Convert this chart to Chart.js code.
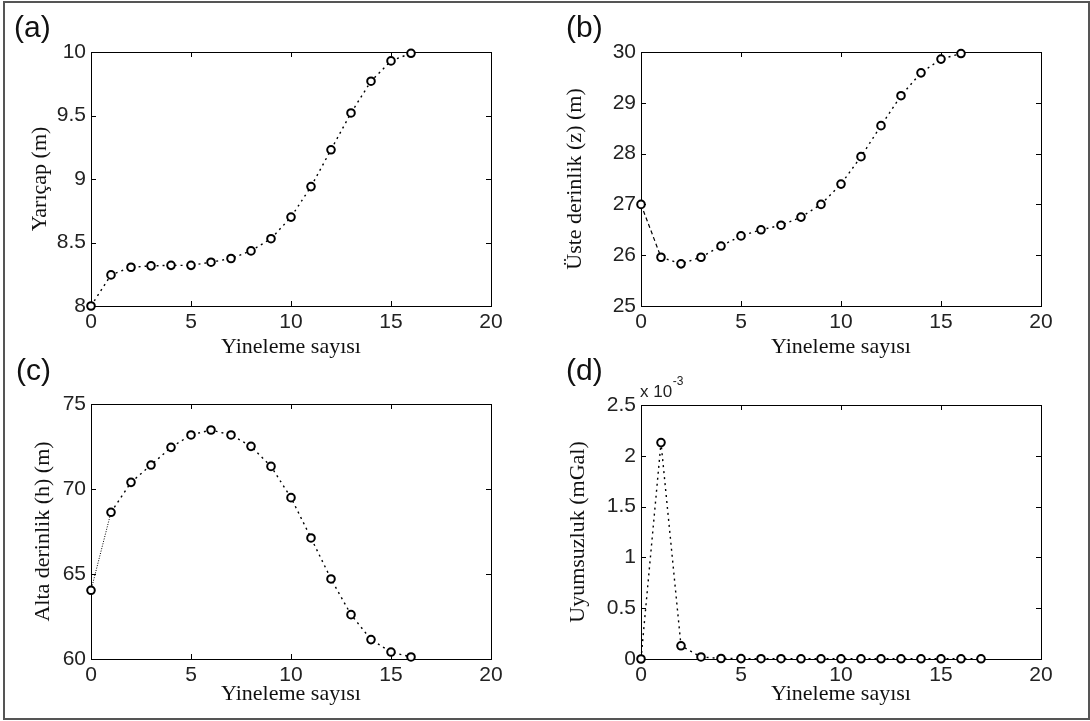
<!DOCTYPE html>
<html>
<head>
<meta charset="utf-8">
<script src="https://cdn.jsdelivr.net/npm/chart.js@4.4.0/dist/chart.umd.min.js"></script>
<style>
body { margin: 0; background: #fff; }
#page { position: relative; width: 1090px; height: 721px; overflow: hidden; background: #fff; }
#frame { position: absolute; left: 3px; top: 1px; width: 1083px; height: 715px; border: 2px solid #555; }
canvas { position: absolute; }
.tag { position: absolute; font-family: "Liberation Sans", Arial, sans-serif; font-size: 30px; line-height: 30px; color: #111; }
</style>
</head>
<body>
<div id="page">
  <div id="frame"></div>
  <canvas id="chartA" width="545" height="370" style="left:0px;top:0px"></canvas>
  <canvas id="chartB" width="545" height="370" style="left:545px;top:0px"></canvas>
  <canvas id="chartC" width="545" height="361" style="left:0px;top:360px"></canvas>
  <canvas id="chartD" width="545" height="361" style="left:545px;top:360px"></canvas>
  <div class="tag" style="left:14px;top:12px">(a)</div>
  <div class="tag" style="left:566px;top:12px">(b)</div>
  <div class="tag" style="left:16px;top:355px">(c)</div>
  <div class="tag" style="left:566px;top:355px">(d)</div>
</div>
<script>
// iteration numbers and values per panel
var iterABC = [0, 1, 2, 3, 4, 5, 6, 7, 8, 9, 10, 11, 12, 13, 14, 15, 16];
var yaricap = [8.0, 8.245, 8.305, 8.316, 8.32, 8.32, 8.345, 8.374, 8.434, 8.53, 8.70, 8.94, 9.23, 9.52, 9.77, 9.93, 9.99];
var ustDerinlik = [27.0, 25.96, 25.83, 25.96, 26.18, 26.38, 26.50, 26.59, 26.75, 27.0, 27.40, 27.94, 28.55, 29.14, 29.59, 29.86, 29.97];
var altDerinlik = [64.04, 68.63, 70.39, 71.41, 72.45, 73.18, 73.47, 73.18, 72.51, 71.33, 69.49, 67.12, 64.71, 62.61, 61.14, 60.41, 60.12];
var iterD = [0, 1, 2, 3, 4, 5, 6, 7, 8, 9, 10, 11, 12, 13, 14, 15, 16, 17];
var uyumsuzluk = [0, 2.13, 0.13, 0.02, 0.005, 0.004, 0.003, 0.003, 0.002, 0.002, 0.002, 0.002, 0.002, 0.002, 0.002, 0.002, 0.002, 0.002]; // x 10^-3 mGal

var xTickVals = [0, 5, 10, 15, 20];
var yTicksA = [8, 8.5, 9, 9.5, 10];
var yTicksB = [25, 26, 27, 28, 29, 30];
var yTicksC = [60, 65, 70, 75];
var yTicksD = [0, 0.5, 1, 1.5, 2, 2.5];

var xLabel = 'Yineleme sayısı';
var tickFont = { family: '"Liberation Sans", Arial, sans-serif', size: 21 };
var titleFont = { family: '"Liberation Serif", "Times New Roman", serif', size: 22 };

// box frame with inward ticks on all four sides
var axesFrame = {
    id: 'axesFrame',
    beforeDatasetsDraw: function(chart) {
        var ctx = chart.ctx, a = chart.chartArea;
        var xs = chart.scales.x, ys = chart.scales.y;
        ctx.save();
        ctx.strokeStyle = '#000';
        ctx.lineWidth = 1;
        ctx.strokeRect(Math.round(a.left) + 0.5, Math.round(a.top) + 0.5, Math.round(a.right - a.left), Math.round(a.bottom - a.top));
        ctx.beginPath();
        xs.ticks.forEach(function(t) {
            var px = Math.round(xs.getPixelForValue(t.value)) + 0.5;
            ctx.moveTo(px, a.bottom); ctx.lineTo(px, a.bottom - 5);
            ctx.moveTo(px, a.top); ctx.lineTo(px, a.top + 5);
        });
        ys.ticks.forEach(function(t) {
            var py = Math.round(ys.getPixelForValue(t.value)) + 0.5;
            ctx.moveTo(a.left, py); ctx.lineTo(a.left + 5, py);
            ctx.moveTo(a.right, py); ctx.lineTo(a.right - 5, py);
        });
        ctx.stroke();
        ctx.restore();
    },
    afterDraw: function(chart) {
        var note = chart.options.plugins.axesFrame;
        if (!note || !note.exponent) return;
        var ctx = chart.ctx, a = chart.chartArea;
        ctx.save();
        ctx.fillStyle = '#222';
        ctx.textBaseline = 'alphabetic';
        ctx.font = '17px "Liberation Sans", Arial, sans-serif';
        ctx.fillText('x 10', a.left - 1, a.top - 8);
        var w = ctx.measureText('x 10').width;
        ctx.font = '12px "Liberation Sans", Arial, sans-serif';
        ctx.fillText(note.exponent, a.left + w - 0.5, a.top - 20);
        ctx.restore();
    }
};

function fixedTicks(list) {
    return function(scale) {
        scale.ticks = list.map(function(v) { return { value: v }; });
    };
}

function panel(id, xs, ys, yTicks, yTitle, box, firstSeg, exponent) {
    var points = xs.map(function(x, i) { return { x: x, y: ys[i] }; });
    return new Chart(document.getElementById(id), {
        type: 'line',
        data: {
            datasets: [{
                data: points,
                borderColor: '#000',
                borderWidth: 1.4,
                borderDash: [2, 4],
                pointRadius: 3.8,
                pointBorderWidth: 2,
                pointBorderColor: '#000',
                pointBackgroundColor: '#fff',
                tension: 0,
                clip: false,
                segment: {
                    borderDash: function(c) { return (firstSeg && c.p0DataIndex === 0) ? firstSeg.dash : undefined; },
                    borderWidth: function(c) { return (firstSeg && c.p0DataIndex === 0) ? firstSeg.width : undefined; }
                }
            }]
        },
        options: {
            responsive: false,
            animation: false,
            devicePixelRatio: 1,
            layout: { padding: { top: box.top, right: box.right, left: 0, bottom: 0 } },
            plugins: {
                legend: { display: false },
                tooltip: { enabled: false },
                axesFrame: { exponent: exponent }
            },
            scales: {
                x: {
                    type: 'linear',
                    min: 0,
                    max: 20,
                    afterBuildTicks: fixedTicks(xTickVals),
                    afterFit: function(s) { s.height = box.xAxisH; },
                    grid: { display: false, drawTicks: false },
                    border: { display: false },
                    ticks: { font: tickFont, color: '#222', padding: 4, maxRotation: 0 },
                    title: { display: true, text: xLabel, font: titleFont, color: '#111', padding: { top: 0, bottom: box.xTitlePad } }
                },
                y: {
                    type: 'linear',
                    min: yTicks[0],
                    max: yTicks[yTicks.length - 1],
                    afterBuildTicks: fixedTicks(yTicks),
                    afterFit: function(s) { s.width = box.yAxisW; },
                    grid: { display: false, drawTicks: false },
                    border: { display: false },
                    ticks: { font: tickFont, color: '#222', padding: 5, callback: function(v) { return String(v); } },
                    title: { display: true, text: yTitle, font: titleFont, color: '#111', padding: { top: box.yTitlePad, bottom: 0 } }
                }
            }
        },
        plugins: [axesFrame]
    });
}

panel('chartA', iterABC, yaricap, yTicksA, 'Yarıçap (m)',
    { top: 52, right: 54, xAxisH: 64, yAxisW: 91, xTitlePad: 10, yTitlePad: 27 }, null);
panel('chartB', iterABC, ustDerinlik, yTicksB, 'Üste derinlik (z) (m)',
    { top: 52, right: 49, xAxisH: 64, yAxisW: 96, xTitlePad: 10, yTitlePad: 17 }, { dash: [4, 3], width: 1.2 });
panel('chartC', iterABC, altDerinlik, yTicksC, 'Alta derinlik (h) (m)',
    { top: 44, right: 54, xAxisH: 62, yAxisW: 91, xTitlePad: 14, yTitlePad: 30 }, { dash: [1, 1.5], width: 1 });
panel('chartD', iterD, uyumsuzluk, yTicksD, 'Uyumsuzluk (mGal)',
    { top: 45, right: 49, xAxisH: 62, yAxisW: 96, xTitlePad: 14, yTitlePad: 20 }, null, '-3');
</script>
</body>
</html>
